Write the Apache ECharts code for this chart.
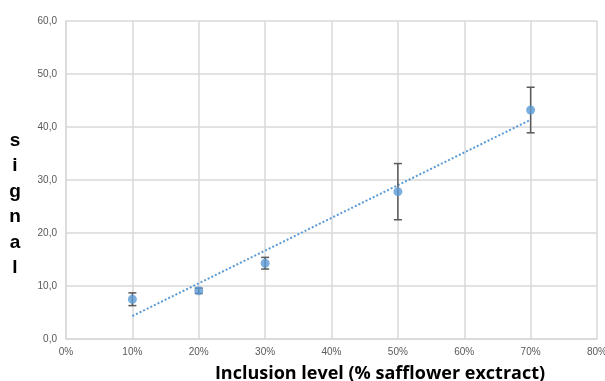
<!DOCTYPE html>
<html>
<head>
<meta charset="utf-8">
<script src="https://cdn.jsdelivr.net/npm/echarts@6/dist/echarts.min.js"></script>
<style>
  html, body { margin: 0; padding: 0; background: #fff; }
  #chart { width: 605px; height: 381px; }
</style>
</head>
<body>
<div id="chart"></div>
<script>
// Inclusion level (%) and measured signal with ± error
const inclusionLevels = [10, 20, 30, 50, 70];
const signalMeans = [7.5, 9.1, 14.3, 27.8, 43.2];
const signalErrors = [1.2, 0.5, 1.1, 5.3, 4.3];
const xTicks = [0, 10, 20, 30, 40, 50, 60, 70, 80];
const yTicks = [0, 10, 20, 30, 40, 50, 60];

// Least-squares linear trend through the means
function linearFit(xs, ys) {
  const n = xs.length;
  const mx = xs.reduce((a, b) => a + b, 0) / n;
  const my = ys.reduce((a, b) => a + b, 0) / n;
  let sxy = 0, sxx = 0;
  for (let i = 0; i < n; i++) {
    sxy += (xs[i] - mx) * (ys[i] - my);
    sxx += (xs[i] - mx) * (xs[i] - mx);
  }
  const slope = sxy / sxx;
  return { slope, intercept: my - slope * mx };
}
const fit = linearFit(inclusionLevels, signalMeans);
const xFirst = inclusionLevels[0];
const xLast = inclusionLevels[inclusionLevels.length - 1];
const trendData = [
  [xFirst, fit.intercept + fit.slope * xFirst],
  [xLast, fit.intercept + fit.slope * xLast]
];

const pointData = inclusionLevels.map((x, i) => [x, signalMeans[i]]);
const errorData = inclusionLevels.map((x, i) => [x, signalMeans[i] - signalErrors[i], signalMeans[i] + signalErrors[i]]);

const gridColor = '#d9d9d9';
const labelColor = '#595959';
const labelFont = '"Liberation Sans Narrow", "Liberation Sans", sans-serif';

const chart = echarts.init(document.getElementById('chart'), null, { renderer: 'canvas' });
chart.setOption({
  animation: false,
  backgroundColor: '#ffffff',
  grid: { left: 66, right: 8, top: 21, bottom: 42, outerBoundsMode: 'none', containLabel: false },
  xAxis: {
    type: 'value',
    min: 0, max: 80, interval: 10,
    axisLine: { show: true, lineStyle: { color: gridColor, width: 1.5 } },
    axisTick: { show: false },
    splitLine: { show: true, lineStyle: { color: gridColor, width: 1.5 } },
    axisLabel: {
      color: labelColor, fontSize: 10, fontFamily: labelFont, margin: 8,
      formatter: v => xTicks.includes(v) ? v + '%' : ''
    }
  },
  yAxis: {
    type: 'value',
    min: 0, max: 60, interval: 10,
    axisLine: { show: true, lineStyle: { color: gridColor, width: 1.5 } },
    axisTick: { show: false },
    splitLine: { show: true, lineStyle: { color: gridColor, width: 1.5 } },
    axisLabel: {
      color: labelColor, fontSize: 10, fontFamily: labelFont, margin: 9,
      formatter: v => yTicks.includes(v) ? v.toFixed(1).replace('.', ',') : ''
    }
  },
  series: [
    {
      type: 'line',
      data: trendData,
      symbol: 'none',
      lineStyle: { color: '#5b9bd5', width: 2, type: [2, 2] },
      z: 2
    },
    {
      type: 'custom',
      data: errorData,
      renderItem: (params, api) => {
        const x = api.value(0);
        const lo = api.coord([x, api.value(1)]);
        const hi = api.coord([x, api.value(2)]);
        const cap = 4;
        const style = { stroke: '#595959', lineWidth: 1.5 };
        return {
          type: 'group',
          children: [
            { type: 'line', shape: { x1: lo[0], y1: lo[1], x2: hi[0], y2: hi[1] }, style },
            { type: 'line', shape: { x1: hi[0] - cap, y1: hi[1], x2: hi[0] + cap, y2: hi[1] }, style },
            { type: 'line', shape: { x1: lo[0] - cap, y1: lo[1], x2: lo[0] + cap, y2: lo[1] }, style }
          ]
        };
      },
      z: 3
    },
    {
      type: 'scatter',
      data: pointData,
      symbol: 'circle',
      symbolSize: 9,
      itemStyle: { color: '#5b9bd5' },
      z: 4
    }
  ],
  graphic: [
    {
      type: 'text',
      x: 15, y: 128,
      style: {
        text: 's\ni\ng\nn\na\nl',
        font: 'bold 19px "Liberation Sans", sans-serif',
        fill: '#000',
        lineHeight: 25.4,
        align: 'center'
      }
    },
    {
      type: 'text',
      x: 380, y: 365,
      style: {
        text: 'Inclusion level (% safflower exctract)',
        font: 'bold 18px "Open Sans", sans-serif',
        fill: '#000',
        align: 'center'
      }
    }
  ]
});
</script>
</body>
</html>
